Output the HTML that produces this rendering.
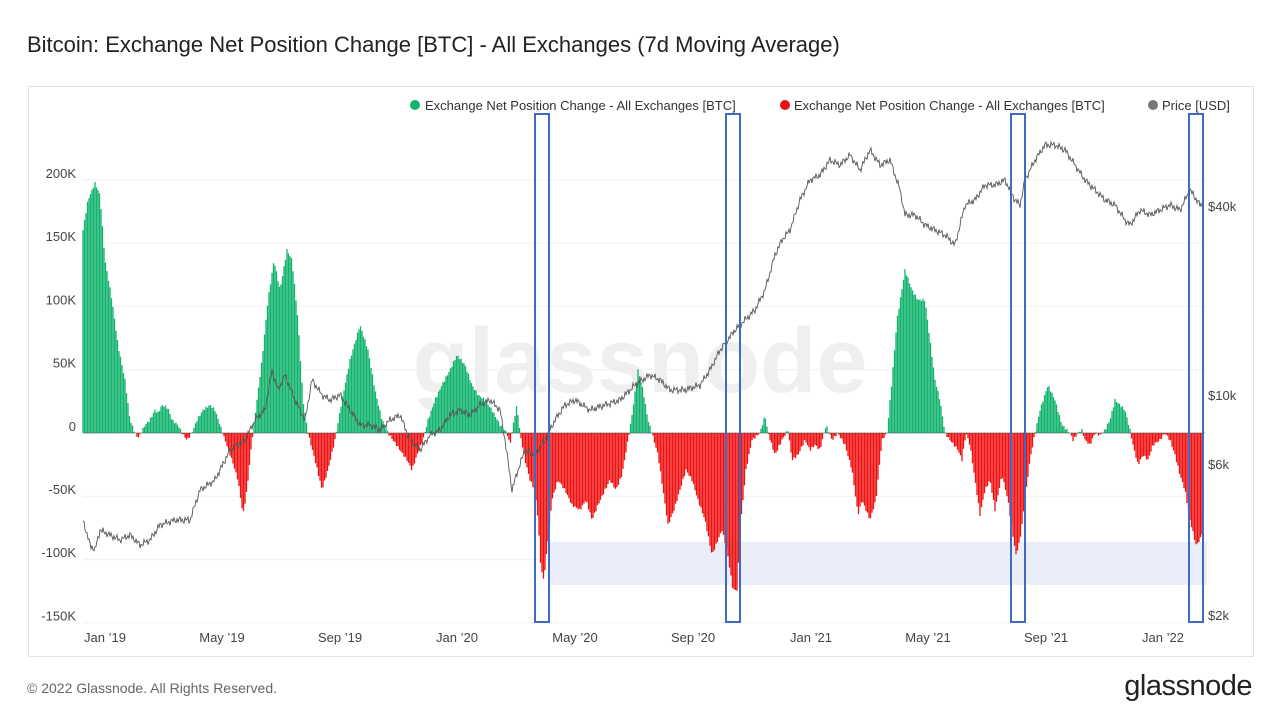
<!DOCTYPE html>
<html><head><meta charset="utf-8"><style>
body{margin:0;width:1280px;height:720px;background:#fff;font-family:"Liberation Sans",sans-serif;overflow:hidden;position:relative}
.t{position:absolute;left:27px;top:32px;font-size:22px;color:#222}
.box{position:absolute;left:28px;top:86px;width:1224px;height:569px;border:1px solid #e3e3e3}
.f{position:absolute;left:27px;top:680px;font-size:14px;color:#666}
.logo{position:absolute;right:28px;top:670px;font-size:29px;color:#222;letter-spacing:-0.5px}
</style></head><body>
<div class="t">Bitcoin: Exchange Net Position Change [BTC] - All Exchanges (7d Moving Average)</div>
<div class="box"></div>
<svg id="s" width="1280" height="720" style="position:absolute;left:0;top:0" font-family="Liberation Sans, sans-serif"></svg>
<div class="f">© 2022 Glassnode. All Rights Reserved.</div>
<div class="logo">glassnode</div>
<script>
const net=[83,230,88,200,95,183,100,195,105,260,112,300,118,345,125,380,130,420,135,433,138,438,141,433,145,425,150,420,155,410,158,413,162,405,168,408,172,420,178,425,182,433,187,440,192,433,197,420,203,410,210,405,215,410,220,425,225,440,232,460,238,480,243,515,247,490,252,440,257,400,262,360,268,300,274,260,280,290,287,250,292,260,298,320,303,400,308,433,315,460,322,490,328,470,335,440,342,400,350,360,360,325,368,350,375,390,382,420,388,433,393,440,400,450,407,460,412,470,417,455,423,440,428,420,435,400,442,385,450,370,457,355,465,365,472,385,478,395,485,400,492,410,500,425,507,433,510,445,514,420,517,405,520,433,525,460,530,480,535,490,538,520,541,570,544,580,548,540,552,500,558,480,565,490,572,505,580,510,586,500,592,520,598,505,605,490,610,480,616,490,622,475,628,440,632,415,638,370,643,390,648,420,652,433,658,455,663,490,668,525,674,510,680,490,686,470,692,480,698,500,705,520,712,555,718,540,722,530,727,550,733,590,737,590,741,520,746,470,752,440,760,433,765,415,768,433,775,455,782,440,788,430,792,460,798,455,805,440,810,450,815,445,820,450,826,425,832,440,838,433,845,445,852,470,858,515,862,500,866,510,870,520,876,500,882,440,887,433,892,380,897,320,905,270,912,290,918,300,925,300,930,340,935,380,940,400,945,433,950,440,958,450,962,460,966,433,970,445,975,480,980,515,985,490,990,480,995,510,1002,475,1008,500,1012,530,1016,555,1020,540,1025,500,1030,460,1035,433,1040,410,1048,385,1055,400,1062,425,1070,433,1073,440,1078,433,1082,430,1085,440,1090,445,1095,433,1100,435,1105,430,1110,420,1115,400,1120,405,1125,410,1130,430,1133,445,1138,465,1143,455,1148,460,1153,445,1160,440,1165,433,1170,440,1175,455,1180,475,1185,490,1190,520,1196,545,1200,540,1203,530];
const pr=[83,520,90,545,95,550,100,530,110,535,120,540,130,535,140,545,150,540,160,525,175,520,190,520,200,490,215,480,230,450,245,440,255,420,265,410,272,370,278,390,285,375,295,400,305,420,312,380,322,395,330,400,340,395,350,410,360,425,370,425,380,430,390,420,400,415,410,440,420,450,430,435,440,430,450,415,460,410,470,415,480,405,490,400,500,410,505,440,512,490,518,470,525,450,535,455,545,440,555,420,565,405,575,400,590,410,605,405,620,400,635,385,650,375,660,380,670,390,685,390,700,385,710,370,720,350,735,330,745,320,755,310,765,290,775,255,782,240,790,230,800,200,810,180,820,175,830,160,840,165,850,155,860,170,870,150,880,165,890,160,900,190,905,215,915,215,925,225,935,230,945,235,955,245,965,205,975,200,985,185,995,185,1005,180,1015,200,1020,205,1025,180,1035,160,1045,145,1055,145,1065,150,1075,165,1085,180,1095,190,1105,200,1115,205,1125,220,1130,225,1140,210,1150,215,1160,210,1170,205,1180,210,1190,190,1200,205];
function interp(a,x){for(let i=0;i<a.length-2;i+=2){if(x<=a[i+2]){let t=(x-a[i])/(a[i+2]-a[i]);return a[i+1]+t*(a[i+3]-a[i+1]);}}return a[a.length-1];}
let h='';
for(let k=-3;k<=4;k++){let y=433-k*63.3;h+=`<line x1="83" x2="1205" y1="${y}" y2="${y}" stroke="#f0f0f0"/>`;}
h+=`<text x="640" y="392" font-size="92" fill="#efefef" text-anchor="middle" font-weight="bold">glassnode</text>`;
h+=`<rect x="549" y="542" width="658" height="43" fill="#e6ebf8" opacity="0.85"/>`;
let g='',r='';
for(let x=83;x<=1203;x+=1.5){let y=interp(net,x)+Math.sin(x*1.7)*1.2;if(y<433)g+=`M${x} 433V${y.toFixed(1)}`;else r+=`M${x} 433V${y.toFixed(1)}`;}
h+=`<path d="${g}" stroke="#10b36b" stroke-width="1.3"/><path d="${r}" stroke="#ee1111" stroke-width="1.3"/>`;
let p='M';for(let x=83;x<=1203;x+=1){let y=interp(pr,x)+Math.sin(x*2.3)*2.5+Math.sin(x*0.9)*1.5;p+=`${x} ${y.toFixed(1)} `;}
h+=`<path d="${p}" fill="none" stroke="#555" stroke-width="0.9"/>`;
h+=`<line x1="83" x2="1205" y1="433" y2="433" stroke="#444" stroke-width="0.5"/>`;
[535,726,1011,1189].forEach(x=>h+=`<rect x="${x}" y="114" width="14" height="508" fill="none" stroke="#3d6bc4" stroke-width="2"/>`);
const yl=['200K','150K','100K','50K','0','-50K','-100K','-150K'];
yl.forEach((l,i)=>h+=`<text x="76" y="${178+i*63.2}" font-size="13" fill="#444" text-anchor="end">${l}</text>`);
[['$40k',211],['$10k',400],['$6k',469],['$2k',620]].forEach(([l,y])=>h+=`<text x="1208" y="${y}" font-size="13" fill="#444">${l}</text>`);
const xl=[['Jan ’19',105],['May ’19',222],['Sep ’19',340],['Jan ’20',457],['May ’20',575],['Sep ’20',693],['Jan ’21',811],['May ’21',928],['Sep ’21',1046],['Jan ’22',1163]];
xl.forEach(([l,x])=>h+=`<text x="${x}" y="642" font-size="13" fill="#444" text-anchor="middle">${l}</text>`);
h+=`<circle cx="415" cy="105" r="5" fill="#10b36b"/><text x="425" y="110" font-size="13" fill="#333">Exchange Net Position Change - All Exchanges [BTC]</text>`;
h+=`<circle cx="785" cy="105" r="5" fill="#ee1111"/><text x="794" y="110" font-size="13" fill="#333">Exchange Net Position Change - All Exchanges [BTC]</text>`;
h+=`<circle cx="1153" cy="105" r="5" fill="#777"/><text x="1162" y="110" font-size="13" fill="#333">Price [USD]</text>`;
document.getElementById('s').innerHTML=h;
</script>
</body></html>
